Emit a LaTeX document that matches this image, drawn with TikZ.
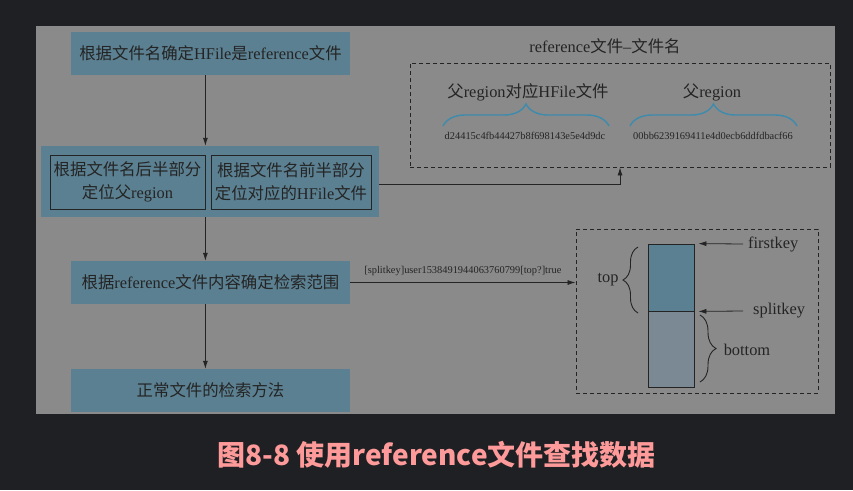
\documentclass[tikz,border=0pt]{standalone}
\usepackage{fontspec}
\setmainfont{Liberation Serif}
\newfontfamily\cjk{Noto Sans CJK SC}
\newcommand{\zh}[1]{{\cjk #1}}
\usepackage{tikz}
\usetikzlibrary{positioning,arrows.meta,decorations.pathreplacing}
\definecolor{bgdark}{HTML}{1F2023}
\definecolor{panelgray}{HTML}{8A8A8A}
\definecolor{boxteal}{HTML}{5B8091}
\definecolor{barlow}{HTML}{7B8994}
\definecolor{braceblue}{HTML}{3D8BAD}
\definecolor{inkdark}{HTML}{242424}
\definecolor{capred}{HTML}{FF9A9A}

\begin{document}
\begin{tikzpicture}[x=1pt,y=-1pt,
  stepbox/.style={fill=boxteal,text=inkdark,minimum width=279pt,minimum height=43pt,inner sep=0pt,font=\fontsize{16.4}{23}\selectfont},
  subbox/.style={draw=inkdark,line width=0.8pt,text=inkdark,minimum height=54pt,inner sep=0pt,align=center,font=\fontsize{16.4}{23}\selectfont},
  flow/.style={draw=inkdark,line width=0.8pt,-{Latex[length=8pt,width=5pt]}},
  dashbox/.style={draw=inkdark,line width=0.9pt,dash pattern=on 4pt off 3pt,inner sep=0pt},
  lab/.style={text=inkdark,font=\fontsize{16.4}{19}\selectfont,inner sep=0pt},
  hash/.style={text=inkdark,font=\fontsize{10.4}{12}\selectfont,inner sep=0pt},
  brc/.style={decorate,decoration={brace,amplitude=#1}}]
% page and panel
\fill[bgdark] (0,0) rectangle (853,490);
\fill[panelgray] (36,26) rectangle (835,414);
% left column
\node[stepbox] (ident) at (210.5,53.5) {\zh{根据文件名确定}HFile\zh{是}reference\zh{文件}};
\node[fill=boxteal,minimum width=338pt,minimum height=71pt,inner sep=0pt] (locate) at (210,181.5) {};
\node[subbox,minimum width=155pt] (lft) at (127.5,182) {\zh{根据文件名后半部分}\\\zh{定位父}region};
\node[subbox,minimum width=160pt] (rgt) at (291,182) {\zh{根据文件名前半部分}\\\zh{定位对应的}HFile\zh{文件}};
\node[stepbox] (range) at (210.5,282.5) {\zh{根据}reference\zh{文件内容确定检索范围}};
\node[stepbox] (normal) at (210.5,390.5) {\zh{正常文件的检索方法}};
\draw[flow] (ident.south -| lft.east) -- (locate.north -| lft.east);
\draw[flow] (locate.south -| lft.east) -- (range.north -| lft.east);
\draw[flow] (range.south -| lft.east) -- (normal.north -| lft.east);
% reference file name
\node[dashbox,minimum width=420pt,minimum height=104pt] (refbox) at (620,115) {};
\node[lab] (reftitle) at (605,46) {reference\zh{文件}–\zh{文件名}};
\node[lab] (pfile) at (528,92) {\zh{父}region\zh{对应}HFile\zh{文件}};
\node[lab] (preg) at (712,92) {\zh{父}region};
\node[hash] (hfile) at (525,136) {d24415c4fb44427b8f698143e5e4d9dc};
\node[hash] (hreg) at (713,136) {00bb6239169411e4d0ecb6ddfdbacf66};
\draw[brc=22pt,braceblue,line width=1.4pt] (443,126) -- (609,126);
\draw[brc=22pt,braceblue,line width=1.4pt] (630,126) -- (797,126);
\draw[flow] ([yshift=-2.5pt]locate.east) -- ([yshift=-2.5pt]locate.east -| refbox.south) -- (refbox.south);
% key range
\node[dashbox,minimum width=242pt,minimum height=164pt] (keybox) at (697,311) {};
\node[draw=inkdark,fill=boxteal,line width=0.8pt,minimum width=46pt,minimum height=67pt,inner sep=0pt] (topseg) at (671,277.5) {};
\node[draw=inkdark,fill=barlow,line width=0.8pt,minimum width=46pt,minimum height=76pt,inner sep=0pt] (botseg) at (671,349) {};
\node[lab,anchor=west] (firstkey) at (748,244) {firstkey};
\node[lab,anchor=west] (splitkey) at (753,311) {splitkey};
\node[lab] (toplab) at (608,280) {top};
\node[lab] (botlab) at (747,350) {bottom};
\draw[flow] ([xshift=-5pt]firstkey.west) -- ([xshift=4pt]topseg.north east);
\draw[flow] ([xshift=-10pt]splitkey.west) -- ([xshift=4pt]topseg.south east);
\draw[brc=15pt,inkdark,line width=0.9pt] (638,313) -- (638,247);
\draw[brc=16pt,inkdark,line width=0.9pt] (700,315) -- (700,382);
\draw[flow] (range.east) -- (range.east -| keybox.west)
  node[midway,above=6pt,hash] {[splitkey]user1538491944063760799[top?]true};
% caption
\node[text=capred,font=\cjk\bfseries\fontsize{28}{30}\selectfont] (caption) at (436.5,455) {图8-8 使用reference文件查找数据};
\end{tikzpicture}
\end{document}
